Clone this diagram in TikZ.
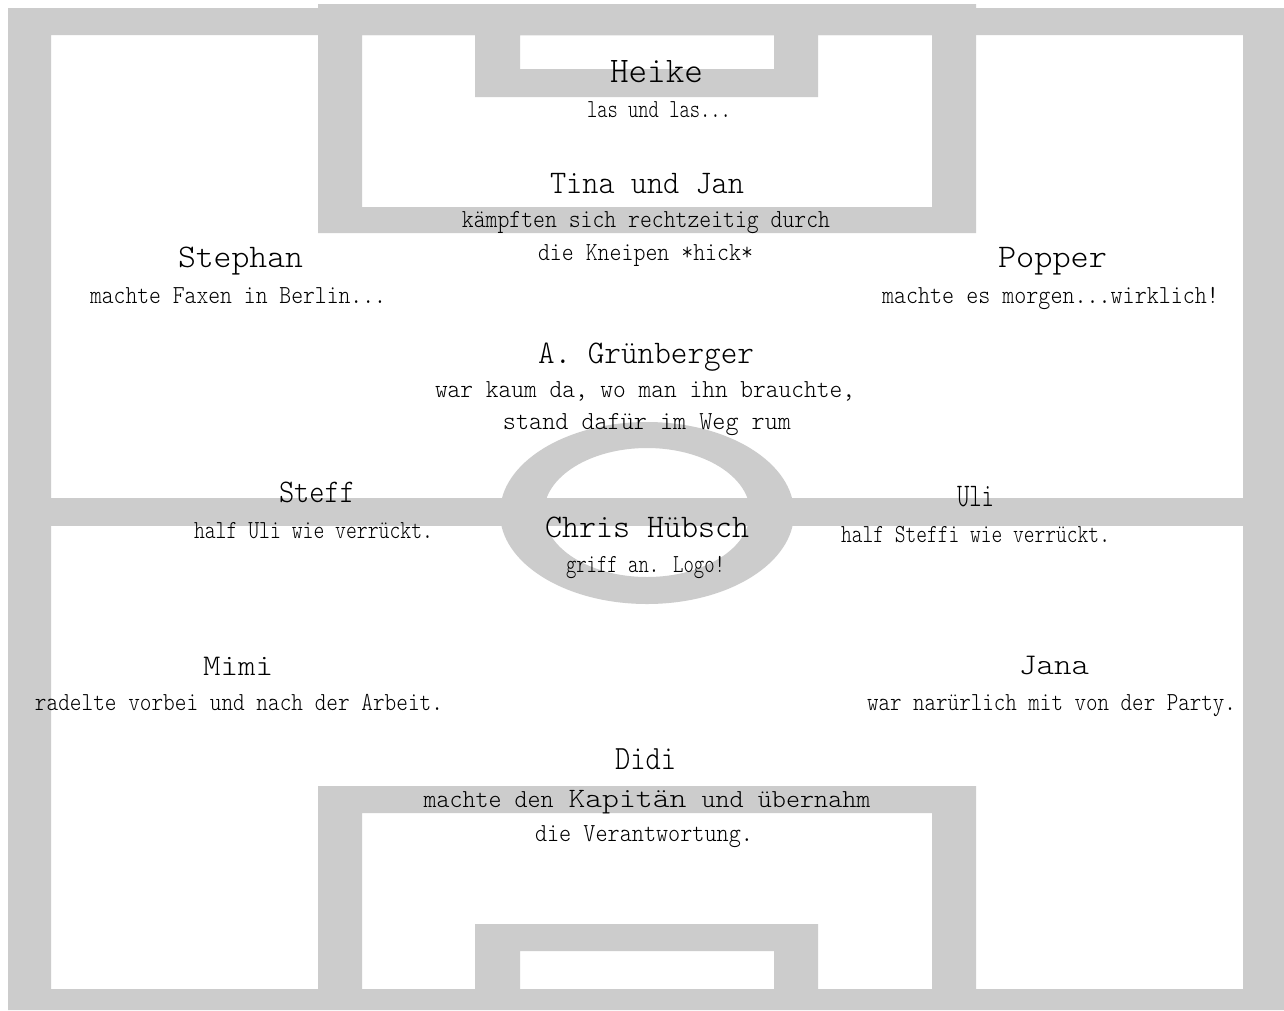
\documentclass[tikz,border=0pt]{standalone}
\usepackage{fontspec}
\usepackage{graphicx}
\newfontfamily\pmono{Latin Modern Mono Light}
\definecolor{linegray}{HTML}{CCCCCC}
\newcommand\nmtxt[3]{\resizebox{#2pt}{\height}{\fontsize{#1}{#1}\selectfont\pmono #3}}
\newcommand\subtxt[2]{\resizebox{#1pt}{\height}{\fontsize{26}{30}\selectfont\pmono #2}}
\begin{document}
\begin{tikzpicture}[x=1pt,y=-1pt,
  lbl/.style={anchor=base,inner sep=0pt,outer sep=0pt,text=black},
  field/.style={fill=linegray,even odd rule}]
\useasboundingbox (0,0) rectangle (1284,1010);
\fill[white] (0,0) rectangle (1284,1010);
% outer boundary
\fill[field] (8,8) rectangle (1284,1010) (51,35) rectangle (1243,989);
% halfway line
\fill[linegray] (51,498) rectangle (1243,526);
% centre circle
\fill[field] (647,513) ellipse [x radius=147pt, y radius=91pt]
             (647,512.5) ellipse [x radius=103pt, y radius=64.5pt];
% top penalty area and goal area
\fill[field] (318,4) rectangle (976,233) (362,35) rectangle (932,207);
\fill[field] (475,35) rectangle (818,97) (520,35) rectangle (774,69);
% bottom penalty area and goal area
\fill[field] (318,786) rectangle (976,989) (362,813) rectangle (932,989);
\fill[field] (475,924) rectangle (818,989) (520,951) rectangle (774,989);

% texts
\node[lbl] (heike) at (656.5,82) {\nmtxt{36}{93}{Heike}};
\node[lbl] (heikes) at (659,117) {\subtxt{144}{las und las...}};
\node[lbl] (tina) at (647,193) {\nmtxt{33}{194}{Tina und Jan}};
\node[lbl] (tinas1) at (646,227) {\subtxt{368}{kämpften sich rechtzeitig durch}};
\node[lbl] (tinas2) at (645.5,260) {\subtxt{215}{die Kneipen *hick*}};
\node[lbl] (stephan) at (240.5,267) {\nmtxt{33}{125}{Stephan}};
\node[lbl] (stephans) at (238,303) {\subtxt{296}{machte Faxen in Berlin...}};
\node[lbl] (popper) at (1052.5,267) {\nmtxt{33}{109}{Popper}};
\node[lbl] (poppers) at (1050.5,303) {\subtxt{337}{machte es morgen...wirklich!}};
\node[lbl] (grun) at (646,363) {\nmtxt{33}{216}{A. Grünberger}};
\node[lbl] (gruns1) at (645,397) {\subtxt{420}{war kaum da, wo man ihn brauchte,}};
\node[lbl] (gruns2) at (647,429) {\subtxt{288}{stand dafür im Weg rum}};
\node[lbl] (steff) at (317,502) {\nmtxt{33}{76}{Steff}};
\node[lbl] (steffs) at (313.5,538) {\subtxt{239}{half Uli wie verrückt.}};
\node[lbl] (uli) at (975.5,506) {\nmtxt{33}{37}{Uli}};
\node[lbl] (ulis) at (975.5,542) {\subtxt{269}{half Steffi wie verrückt.}};
\node[lbl] (chris) at (647,537) {\nmtxt{33}{204}{Chris Hübsch}};
\node[lbl] (chriss) at (645.5,572) {\subtxt{159}{griff an. Logo!}};
\node[lbl] (mimi) at (238,675) {\nmtxt{30}{70}{Mimi}};
\node[lbl] (mimis) at (239,710) {\subtxt{408}{radelte vorbei und nach der Arbeit.}};
\node[lbl] (jana) at (1054,674) {\nmtxt{30}{70}{Jana}};
\node[lbl] (janas) at (1051.5,710) {\subtxt{369}{war narürlich mit von der Party.}};
\node[lbl] (didi) at (645.5,769) {\nmtxt{34}{61}{Didi}};
\node[lbl] (didis1) at (647,807) {\subtxt{130}{machte den}\hspace{15pt}\resizebox{118pt}{\height}{\fontsize{28}{32}\selectfont\pmono Kapitän}\hspace{15pt}\subtxt{169}{und übernahm}};
\node[lbl] (didis2) at (644,841) {\subtxt{218}{die Verantwortung.}};
\end{tikzpicture}
\end{document}
